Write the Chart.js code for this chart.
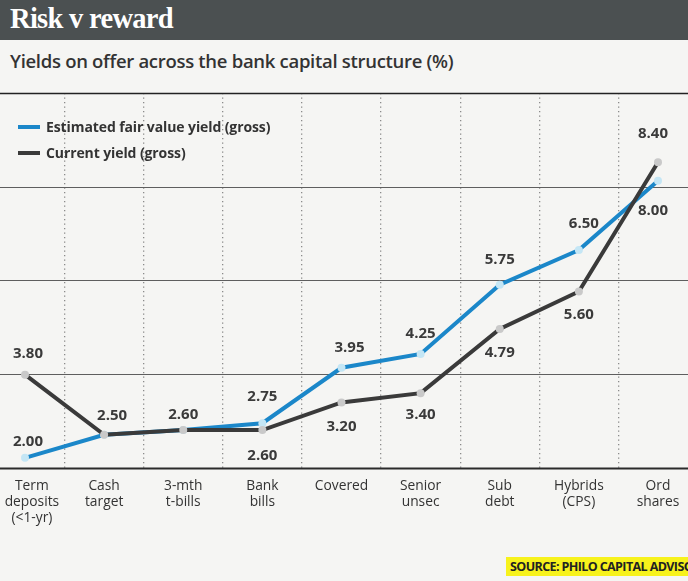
<!DOCTYPE html>
<html>
<head>
<meta charset="utf-8">
<script src="https://cdn.jsdelivr.net/npm/chart.js@4.4.1/dist/chart.umd.min.js"></script>
<style>
  body { margin: 0; width: 688px; height: 581px; overflow: hidden; background: #f5f5f3; position: relative; font-family: "Open Sans", sans-serif; }
  #titlebar { position: absolute; left: 0; top: 0; width: 688px; height: 40px; background: #4b5051; }
  #titlebar span { position: absolute; left: 10px; top: 3px; font: bold 28.5px "Liberation Serif", serif; color: #fff; letter-spacing: -0.7px; }
  #sub { position: absolute; left: 10px; top: 48px; font-weight: 600; font-size: 18.5px; color: #333; letter-spacing: -0.3px; white-space: nowrap; }
  #wrap { position: absolute; left: 0; top: 0; width: 688px; height: 536px; }
  .leg { position: absolute; left: 18px; font-weight: 700; font-size: 14px; color: #333; letter-spacing: -0.1px; white-space: nowrap; }
  .leg i { display: inline-block; width: 22px; height: 4px; margin-right: 6px; vertical-align: middle; position: relative; top: -1px; }
  #src { position: absolute; left: 506px; top: 557px; width: 182px; height: 19px; line-height: 19px; background: #f7f21c; overflow: hidden; white-space: nowrap; font-weight: 700; font-size: 12.5px; color: #222; letter-spacing: -0.6px; padding-left: 4px; box-sizing: border-box; }
</style>
</head>
<body>
<div id="titlebar"><span>Risk v reward</span></div>
<div id="sub">Yields on offer across the bank capital structure (%)</div>
<div id="wrap"><canvas id="yieldChart"></canvas></div>
<div class="leg" style="top:117px"><i style="background:#1b87c9"></i>Estimated fair value yield (gross)</div>
<div class="leg" style="top:143px"><i style="background:#3a3a3a"></i>Current yield (gross)</div>
<div id="src">SOURCE: PHILO CAPITAL ADVISORS</div>

<script>
// first label is nudged right with a leading em space so it stays on the canvas
const categories = [
  ['\u2003Term', '\u2003deposits', '\u2003(<1-yr)'],
  ['Cash', 'target'],
  ['3-mth', 't-bills'],
  ['Bank', 'bills'],
  'Covered',
  ['Senior', 'unsec'],
  ['Sub', 'debt'],
  ['Hybrids', '(CPS)'],
  ['Ord', 'shares']
];
const fairValue = [2.00, 2.50, 2.60, 2.75, 3.95, 4.25, 5.75, 6.50, 8.00];
const currentYield = [3.80, 2.50, 2.60, 2.60, 3.20, 3.40, 4.79, 5.60, 8.40];
const yTicks = [1.78, 3.81, 5.84, 7.87, 9.9];

// where each value label sits relative to its point: [dx, dy], null = no label
const fairLabelNudge = [[3, -16], [8, -19], [0, -15], [0, -26], [8, -20], [0, -20], [0, -25], [5, -26], [-5, 30]];
const currentLabelNudge = [[3, -21], null, null, [0, 26], [0, 24], [0, 22], [0, 24], [0, 23], [-5, -29]];

const ruleLines = {
  id: 'ruleLines',
  beforeDatasetsDraw(chart) {
    const y = chart.scales.y;
    const ctx = chart.ctx;
    ctx.save();
    y.ticks.forEach((t, i) => {
      const py = Math.round(y.getPixelForValue(t.value));
      ctx.beginPath();
      if (i === 0) { ctx.strokeStyle = '#2a2a2a'; ctx.lineWidth = 2; }
      else if (i === y.ticks.length - 1) { ctx.strokeStyle = '#222'; ctx.lineWidth = 1.6; }
      else { ctx.strokeStyle = '#5e5e5e'; ctx.lineWidth = 1; }
      ctx.moveTo(0, py + 0.5);
      ctx.lineTo(chart.width, py + 0.5);
      ctx.stroke();
    });
    ctx.restore();
  }
};

const valueLabels = {
  id: 'valueLabels',
  afterDatasetsDraw(chart) {
    const ctx = chart.ctx;
    ctx.save();
    ctx.font = 'bold 15px "Open Sans"';
    ctx.fillStyle = '#3a3a3a';
    ctx.textAlign = 'center';
    ctx.textBaseline = 'middle';
    chart.data.datasets.forEach((ds, di) => {
      const meta = chart.getDatasetMeta(di);
      meta.data.forEach((pt, i) => {
        const n = ds.labelNudge[i];
        if (!n) return;
        ctx.fillText(ds.data[i].toFixed(2), pt.x + n[0], pt.y + n[1]);
      });
    });
    ctx.restore();
  }
};

new Chart(document.getElementById('yieldChart'), {
  type: 'line',
  data: {
    labels: categories,
    datasets: [
      {
        label: 'Current yield (gross)',
        data: currentYield,
        labelNudge: currentLabelNudge,
        borderColor: '#3a3a3a',
        borderWidth: 4,
        pointRadius: 4,
        pointBorderWidth: 0,
        pointBackgroundColor: '#c9c9c9',
        tension: 0,
        order: 0
      },
      {
        label: 'Estimated fair value yield (gross)',
        data: fairValue,
        labelNudge: fairLabelNudge,
        borderColor: '#1b87c9',
        borderWidth: 4,
        pointRadius: 4,
        pointBorderWidth: 0,
        pointBackgroundColor: '#c4e6f5',
        tension: 0,
        order: 1
      }
    ]
  },
  options: {
    responsive: true,
    maintainAspectRatio: false,
    animation: false,
    layout: { padding: { top: 93, left: 25, right: 30, bottom: 0 } },
    plugins: { legend: { display: false }, tooltip: { enabled: false } },
    scales: {
      x: {
        offset: false,
        afterFit: (axis) => { axis.paddingLeft = 0; axis.paddingRight = 0; },
        grid: { offset: true, color: '#8a8a8a', lineWidth: 1.3, drawTicks: false },
        border: { display: false, dash: [1.3, 3.2] },
        ticks: {
          color: '#333',
          font: { family: 'Open Sans', size: 13.8, lineHeight: 1.16 },
          padding: 10,
          maxRotation: 0,
          autoSkip: false
        }
      },
      y: {
        display: false,
        min: yTicks[0],
        max: yTicks[yTicks.length - 1],
        afterBuildTicks: (axis) => { axis.ticks = yTicks.map(v => ({ value: v })); }
      }
    }
  },
  plugins: [ruleLines, valueLabels]
});
</script>
</body>
</html>
